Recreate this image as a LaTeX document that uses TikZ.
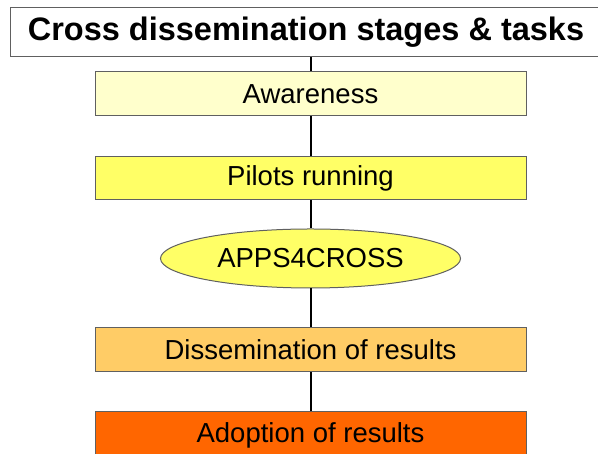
\documentclass[tikz,border=0pt]{standalone}
\usepackage{fontspec}
\setmainfont{Liberation Sans}
\usetikzlibrary{shapes.geometric}
\definecolor{c1}{HTML}{FFFFCC}
\definecolor{c2}{HTML}{FFFF66}
\definecolor{c3}{HTML}{FFCC66}
\definecolor{c4}{HTML}{FF6600}
\definecolor{bord}{HTML}{606060}
\begin{document}
\begin{tikzpicture}[x=1pt,y=1pt,
  stagebox/.style={draw=bord,line width=1pt,rectangle,minimum width=431pt,inner sep=0pt,font=\fontsize{27.5}{31}\selectfont},
  conn/.style={line width=2pt,black}]
\useasboundingbox (0,0) rectangle (598,454);
\node[draw=bord,line width=1pt,fill=white,rectangle,minimum width=592pt,minimum height=49pt,inner sep=0pt,font=\bfseries\fontsize{32.5}{36}\selectfont] (title) at (306,421.5) {Cross dissemination stages \& tasks};
\node[stagebox,fill=c1,minimum height=44pt] (aw) at (310.5,360) {Awareness};
\node[stagebox,fill=c2,minimum height=43pt] (pil) at (310.5,275.5) {Pilots running};
\node[draw=bord,line width=1pt,ellipse,fill=c2,minimum width=300pt,minimum height=59pt,inner sep=0pt,font=\fontsize{27.5}{31}\selectfont] (apps) at (310.5,195.5) {APPS4CROSS};
\node[stagebox,fill=c3,minimum height=44pt] (dis) at (310.5,104) {Dissemination of results};
\node[stagebox,fill=c4,minimum height=46pt] (ad) at (310.5,19) {Adoption of results};
\draw[conn] (title.south -| aw.north) -- (aw.north);
\draw[conn] (aw.south) -- (pil.north);
\draw[conn] (pil.south) -- (apps.north);
\draw[conn] (apps.south) -- (dis.north);
\draw[conn] (dis.south) -- (ad.north);
\end{tikzpicture}
\end{document}
